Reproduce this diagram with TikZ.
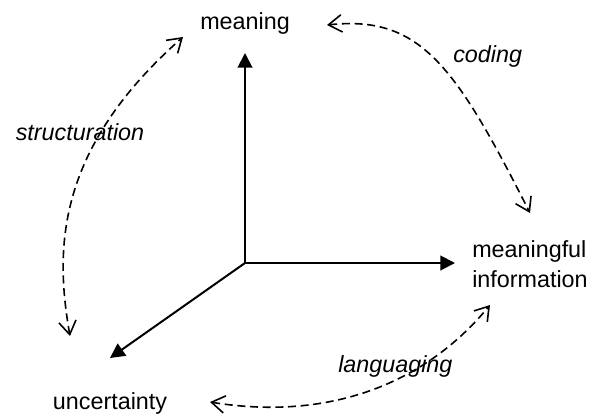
\documentclass[tikz,border=0pt]{standalone}
\usepackage{fontspec}
\setmainfont{Liberation Sans}
\usepackage{tikz}
\usetikzlibrary{arrows.meta}

\begin{document}
\begin{tikzpicture}[x=0.75pt,y=-0.75pt,>={Triangle[length=11pt,width=11pt]},
                    every node/.style={font=\fontsize{17.5}{22.5}\selectfont,inner sep=0pt}]
  \tikzstyle{axisline}=[->,line width=1.5pt]
  \tikzstyle{flow}=[{Straight Barb[length=10pt,width=13pt]}-{Straight Barb[length=10pt,width=13pt]},
                    line width=1.2pt,dash pattern=on 6pt off 3.5pt]
  \useasboundingbox (0,0) rectangle (598,417);

  \coordinate (O)    at (245,263);
  \coordinate (Mtip) at (245,53);
  \coordinate (Itip) at (455,263);
  \coordinate (Utip) at (110,358);

  \node[anchor=base]                 (M)  at (245,30)  {meaning};
  \node[anchor=base west,align=left] (I)  at (472,287) {meaningful\\information};
  \node[anchor=base]                 (U)  at (110,409) {uncertainty};

  \node[anchor=base]      (S) at (80,140)  {\itshape structuration};
  \node[anchor=base west] (C) at (453,63)  {\itshape coding};
  \node[anchor=base west] (L) at (338,372) {\itshape languaging};

  % ends of the dashed curves
  \coordinate (SU) at (70,336);
  \coordinate (SM) at (183,37);
  \coordinate (CM) at (327,25);
  \coordinate (CI) at (530,213);
  \coordinate (LU) at (210,402);
  \coordinate (LI) at (490,305);

  \draw[axisline] (O) -- (Mtip);
  \draw[axisline] (O) -- (Itip);
  \draw[axisline] (O) -- (Utip);

  \draw[flow] (SU) .. controls (55,250) and (55,150) .. (SM);
  \draw[flow] (CM) .. controls (420,15) and (455,65) .. (CI);
  \draw[flow] (LU) .. controls (320,420) and (420,390) .. (LI);
\end{tikzpicture}
\end{document}
